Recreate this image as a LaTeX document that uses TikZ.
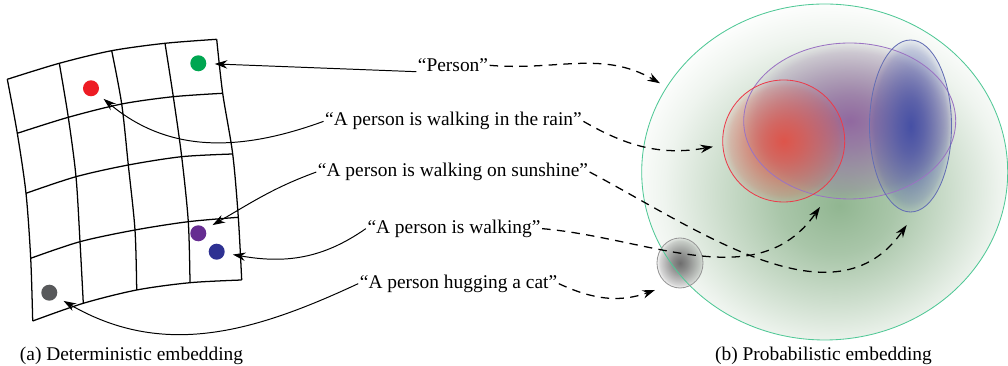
\documentclass[tikz,border=0pt]{standalone}
\usepackage{fontspec}
\setmainfont{Liberation Serif}
\usetikzlibrary{arrows.meta,positioning,fadings}

\definecolor{dotgreen}{RGB}{0,166,81}
\definecolor{dotred}{RGB}{237,28,36}
\definecolor{dotpurple}{RGB}{102,45,145}
\definecolor{dotblue}{RGB}{46,49,146}
\definecolor{dotgray}{RGB}{88,89,91}
\definecolor{rimgreen}{RGB}{80,200,150}
\definecolor{rimpurple}{RGB}{155,115,195}
\definecolor{rimred}{RGB}{235,60,75}
\definecolor{rimblue}{RGB}{100,110,180}
\definecolor{rimgray}{RGB}{150,150,150}
\definecolor{glowgreen}{RGB}{145,182,145}
\definecolor{blobpurple}{RGB}{145,105,160}
\definecolor{blobred}{RGB}{222,85,75}
\definecolor{blobblue}{RGB}{70,80,165}
\definecolor{blobgray}{RGB}{110,110,110}

\pgfdeclareradialshading{greenglow}{\pgfpoint{2bp}{-5bp}}{color(0bp)=(glowgreen); color(8bp)=(glowgreen!78!white); color(16bp)=(glowgreen!45!white); color(23bp)=(glowgreen!15!white); color(28bp)=(white); color(50bp)=(white)}
\pgfdeclareradialshading{softspotshade}{\pgfpointorigin}{color(0bp)=(white); color(8bp)=(white!78!black); color(16bp)=(white!50!black); color(22bp)=(white!28!black); color(26bp)=(black); color(50bp)=(black)}
\pgfdeclarefading{softspot}{\pgfuseshading{softspotshade}}

\begin{document}
\begin{tikzpicture}[x=0.025cm, y=0.025cm, >={Stealth[length=9pt,width=6pt,inset=3pt]},
  font=\fontsize{13.8}{16}\selectfont,
  lbl/.style={anchor=base, inner sep=1pt},
  dot/.style={circle, inner sep=0pt, minimum size=0.4cm, outer sep=6pt},
  link/.style={->, line width=0.7pt},
  dlink/.style={->, line width=0.9pt, dash pattern=on 6pt off 4.5pt},
  gridline/.style={line width=0.9pt}]
  \useasboundingbox (0,0) rectangle (1008,366);

  % deterministic embedding grid
  \path (7.3,286.7) coordinate (g00) (59.3,302.7) coordinate (g01) (111.7,315.3) coordinate (g02) (165,322.7) coordinate (g03) (216.7,326.7) coordinate (g04);
  \path (17.3,232.7) coordinate (g10) (68.3,248.7) coordinate (g11) (121.7,262) coordinate (g12) (173.3,269.3) coordinate (g13) (222.7,272.7) coordinate (g14);
  \path (26,172.7) coordinate (g20) (76,189.3) coordinate (g21) (128.3,201) coordinate (g22) (181.7,209.3) coordinate (g23) (232.7,212) coordinate (g24);
  \path (30.7,107.7) coordinate (g30) (80,124.3) coordinate (g31) (135,136) coordinate (g32) (188.3,144.3) coordinate (g33) (238.3,148.7) coordinate (g34);
  \path (32.7,45) coordinate (g40) (83.3,62.7) coordinate (g41) (136.7,76) coordinate (g42) (190,83.3) coordinate (g43) (241.7,86) coordinate (g44);
  \foreach \k in {0,...,4} {
    \draw[gridline] plot[smooth] coordinates {(g\k0) (g\k1) (g\k2) (g\k3) (g\k4)};
    \draw[gridline] plot[smooth] coordinates {(g0\k) (g1\k) (g2\k) (g3\k) (g4\k)};
  }

  % points
  \node[dot, fill=dotgreen] (dperson) at (198.3,302.7) {};
  \node[dot, fill=dotred] (drain) at (91,277.7) {};
  \node[dot, fill=dotpurple] (dsun) at (198.3,132.7) {};
  \node[dot, fill=dotblue] (dwalk) at (216.7,114.3) {};
  \node[dot, fill=dotgray] (dcat) at (49.3,73.3) {};

  % sentences
  \node[lbl] (lperson) at (453,294.3) {“Person”};
  \node[lbl] (lrain) at (453.5,240) {“A person is walking in the rain”};
  \node[lbl] (lsun) at (453,189.3) {“A person is walking on sunshine”};
  \node[lbl] (lwalk) at (454,132.7) {“A person is walking”};
  \node[lbl] (lcat) at (458.5,77.7) {“A person hugging a cat”};

  % probabilistic embedding
  \shade[shading=greenglow] (824.7,194) ellipse [x radius=183, y radius=168];
  \fill[blobpurple, path fading=softspot] (849.7,245) ellipse [x radius=106, y radius=78];
  \fill[blobred, path fading=softspot] (783.7,225) circle [radius=61];
  \fill[blobblue, path fading=softspot] (910.5,240) ellipse [x radius=41, y radius=86];
  \fill[blobgray, path fading=softspot] (680,103) ellipse [x radius=23, y radius=25];
  \draw[rimgreen, line width=0.6pt] (824.7,194) ellipse [x radius=183, y radius=168];
  \draw[rimpurple, line width=0.6pt] (849.7,245) ellipse [x radius=106, y radius=78];
  \draw[rimred, line width=0.6pt] (783.7,225) circle [radius=61];
  \draw[rimblue, line width=0.6pt] (910.5,240) ellipse [x radius=41, y radius=86];
  \draw[rimgray, line width=0.6pt] (680,103) ellipse [x radius=23, y radius=25];

  \coordinate (tperson) at (660,282.7);
  \coordinate (train) at (713,219.3);
  \coordinate (tsun) at (906.7,141);
  \coordinate (twalk) at (820,159);
  \coordinate (tcat) at (655,76);

  % deterministic links
  \draw[link] (lperson.base west) -- (dperson);
  \draw[link] (lrain.west) to[out=200, in=-40] (drain);
  \draw[link] (lsun.west) to[out=200, in=30] (dsun);
  \draw[link] (lwalk.west) to[out=215, in=-10] (dwalk);
  \draw[link] (lcat.west) to[out=205, in=-30] (dcat);

  % probabilistic links
  \draw[dlink] (lperson.east) to[out=-5, in=150] (tperson);
  \draw[dlink] (lrain.east) to[out=-30, in=190] (train);
  \draw[dlink] (lsun.east) to[out=-28, in=-125] (tsun);
  \draw[dlink] (lwalk.east) to[out=-5, in=-125] (twalk);
  \draw[dlink] (lcat.east) to[out=-25, in=200] (tcat);

  % captions
  \node[lbl] (capa) at (131.5,5.5) {(a) Deterministic embedding};
  \node[lbl] (capb) at (823.5,5.5) {(b) Probabilistic embedding};
\end{tikzpicture}
\end{document}
